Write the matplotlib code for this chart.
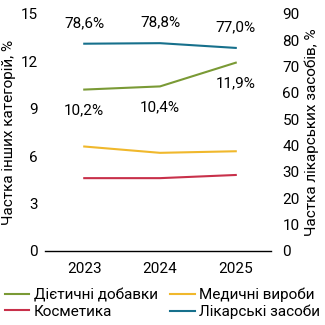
import matplotlib
matplotlib.use("Agg")
import matplotlib.pyplot as plt

years = ["2023", "2024", "2025"]
dietary = [10.2, 10.4, 11.9]      # Дієтичні добавки, left axis
medical = [6.6, 6.2, 6.3]         # Медичні вироби, left axis
cosmetics = [4.6, 4.6, 4.8]       # Косметика, left axis
drugs = [78.6, 78.8, 77.0]        # Лікарські засоби, right axis

dietary_labels = ["10,2%", "10,4%", "11,9%"]
drugs_labels = ["78,6%", "78,8%", "77,0%"]

c_green = "#7a9a35"
c_yellow = "#f0b82c"
c_red = "#c8304a"
c_blue = "#16708c"

plt.rcParams["font.family"] = ["Roboto", "DejaVu Sans"]
plt.rcParams["font.size"] = 11

fig = plt.figure(figsize=(3.25, 3.25), dpi=100)
ax = fig.add_axes([0.138, 0.228, 0.697, 0.73])
ax2 = ax.twinx()

x = list(range(len(years)))
l1, = ax.plot(x, dietary, color=c_green, lw=1.5, label="Дієтичні добавки")
l2, = ax.plot(x, medical, color=c_yellow, lw=1.5, label="Медичні вироби")
l3, = ax.plot(x, cosmetics, color=c_red, lw=1.5, label="Косметика")
l4, = ax2.plot(x, drugs, color=c_blue, lw=1.5, label="Лікарські засоби")

for xi, v, t in zip(x, dietary, dietary_labels):
    ax.annotate(t, (xi, v), xytext=(0, -10), textcoords="offset points",
                ha="center", va="top")
for xi, v, t in zip(x, drugs, drugs_labels):
    ax2.annotate(t, (xi, v), xytext=(0, 10), textcoords="offset points",
                 ha="center", va="bottom")

ax.set_xlim(-0.52, 2.47)
ax.set_ylim(0, 15)
ax.set_yticks([0, 3, 6, 9, 12, 15])
ax2.set_ylim(0, 90)
ax2.set_yticks(range(0, 91, 10))
ax.set_xticks(x)
ax.set_xticklabels(years)

for a in (ax, ax2):
    for s in ("top", "left", "right", "bottom"):
        a.spines[s].set_visible(False)
    a.tick_params(length=0)
ax.spines["bottom"].set_visible(True)
ax.spines["bottom"].set_color("black")
ax.spines["bottom"].set_linewidth(1.0)
ax.tick_params(axis="y", pad=5)
ax.tick_params(axis="x", pad=8)
ax2.tick_params(axis="y", pad=8)

ax.set_ylabel("Частка інших категорій, %", labelpad=3)
ax2.set_ylabel("Частка лікарських засобів, %", labelpad=3)

# row-major legend order
fig.legend(handles=[l1, l3, l2, l4], loc="lower center", ncol=2,
           bbox_to_anchor=(0.5, -0.01), frameon=False, handlelength=1.6,
           handletextpad=0.3, columnspacing=0.8, labelspacing=0.15,
           borderaxespad=0.2)

fig.savefig("out.png", dpi=100)
